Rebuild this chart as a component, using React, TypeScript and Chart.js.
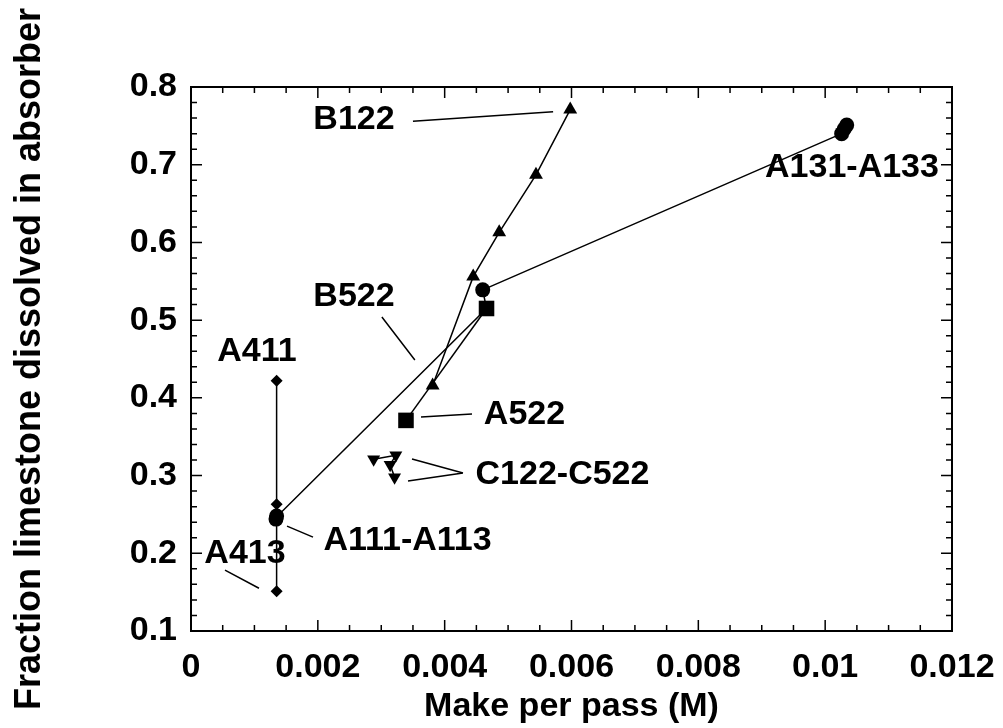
import React, { useEffect, useRef } from 'react';
import { Chart, registerables } from 'chart.js';

Chart.register(...registerables);

const X_MIN = 0;
const X_MAX = 0.012;
const Y_MIN = 0.1;
const Y_MAX = 0.8;
const xTickValues = [0, 0.002, 0.004, 0.006, 0.008, 0.01, 0.012];
const xTickLabels = ['0', '0.002', '0.004', '0.006', '0.008', '0.01', '0.012'];
const yTickValues = [0.1, 0.2, 0.3, 0.4, 0.5, 0.6, 0.7, 0.8];
const yTickLabels = ['0.1', '0.2', '0.3', '0.4', '0.5', '0.6', '0.7', '0.8'];
const X_MINOR_STEP = 0.0005;
const Y_MINOR_STEP = 0.02;

// A4xx series (diamonds)
const a4X = [0.00135, 0.00135, 0.00135];
const a4Y = [0.422, 0.263, 0.151];
// A1xx series (circles)
const a1X = [0.00134, 0.00135, 0.0046, 0.01026, 0.0103, 0.01034];
const a1Y = [0.244, 0.248, 0.539, 0.74, 0.746, 0.751];
// connecting trend line (A111 -> A522-end -> circle -> A131)
const trendX = [0.00134, 0.00466, 0.0046, 0.01026];
const trendY = [0.246, 0.515, 0.539, 0.74];
// A5xx series (squares)
const a5X = [0.00339, 0.00466];
const a5Y = [0.371, 0.515];
// B1xx series (triangles up)
const b1X = [0.00381, 0.00445, 0.00486, 0.00544, 0.00598];
const b1Y = [0.416, 0.556, 0.613, 0.687, 0.771];
// Cxxx series (triangles down)
const cX = [0.00288, 0.00323, 0.00314, 0.00321];
const cY = [0.321, 0.326, 0.314, 0.298];

// annotation labels (data units)
const labelTexts = ['B122', 'B522', 'A411', 'A111-A113', 'A413', 'A522', 'C122-C522', 'A131-A133'];
const labelX = [0.00257, 0.00257, 0.00104, 0.003414, 0.000851, 0.005259, 0.005858, 0.010423];
const labelY = [0.7575, 0.5297, 0.46, 0.2157, 0.199, 0.3779, 0.3006, 0.6958];
// leader lines (data units)
const leaderX1 = [0.0035, 0.00301, 0.001514, 0.000536, 0.003627, 0.003485, 0.003422];
const leaderY1 = [0.756, 0.504, 0.235, 0.1784, 0.3753, 0.3212, 0.2929];
const leaderX2 = [0.00571, 0.00353, 0.001924, 0.001072, 0.004431, 0.004289, 0.004289];
const leaderY2 = [0.768, 0.4487, 0.2208, 0.155, 0.3792, 0.3032, 0.3032];

const FONT = '"Liberation Sans", Arial, Helvetica, sans-serif';

const zip = (xs: number[], ys: number[]) => xs.map((x, i) => ({ x, y: ys[i] }));

const overlayPlugin = {
  id: 'overlay',
  afterDatasetsDraw(chart: any) {
    const { ctx, chartArea: a, scales } = chart;
    const xs = scales.x;
    const ys = scales.y;
    ctx.save();
    ctx.strokeStyle = '#000';
    ctx.fillStyle = '#000';
    // inward ticks on all four sides
    ctx.lineWidth = 1.5;
    ctx.beginPath();
    const nx = Math.round((X_MAX - X_MIN) / X_MINOR_STEP);
    for (let i = 0; i <= nx; i++) {
      const px = xs.getPixelForValue(X_MIN + i * X_MINOR_STEP);
      const len = i % 4 === 0 ? 11 : 6;
      ctx.moveTo(px, a.bottom);
      ctx.lineTo(px, a.bottom - len);
      ctx.moveTo(px, a.top);
      ctx.lineTo(px, a.top + len);
    }
    const ny = Math.round((Y_MAX - Y_MIN) / Y_MINOR_STEP);
    for (let i = 0; i <= ny; i++) {
      const py = ys.getPixelForValue(Y_MIN + i * Y_MINOR_STEP);
      const len = i % 5 === 0 ? 11 : 6;
      ctx.moveTo(a.left, py);
      ctx.lineTo(a.left + len, py);
      ctx.moveTo(a.right, py);
      ctx.lineTo(a.right - len, py);
    }
    ctx.stroke();
    // frame
    ctx.lineWidth = 2;
    ctx.strokeRect(a.left, a.top, a.right - a.left, a.bottom - a.top);
    // leader lines
    ctx.lineWidth = 1.5;
    ctx.beginPath();
    for (let i = 0; i < leaderX1.length; i++) {
      ctx.moveTo(xs.getPixelForValue(leaderX1[i]), ys.getPixelForValue(leaderY1[i]));
      ctx.lineTo(xs.getPixelForValue(leaderX2[i]), ys.getPixelForValue(leaderY2[i]));
    }
    ctx.stroke();
    // labels
    ctx.font = `bold 34px ${FONT}`;
    ctx.textAlign = 'center';
    ctx.textBaseline = 'middle';
    for (let i = 0; i < labelTexts.length; i++) {
      ctx.fillText(labelTexts[i], xs.getPixelForValue(labelX[i]), ys.getPixelForValue(labelY[i]));
    }
    ctx.restore();
  },
};

export default function App() {
  const ref = useRef<HTMLCanvasElement | null>(null);
  useEffect(() => {
    document.body.style.margin = '0';
    const canvas = ref.current;
    if (!canvas) return;
    const black = '#000';
    const chart = new Chart(canvas, {
      type: 'scatter',
      data: {
        datasets: [
          {
            label: 'Trend',
            data: zip(trendX, trendY),
            showLine: true,
            borderColor: black,
            borderWidth: 1.5,
            pointRadius: 0,
          },
          {
            label: 'A4xx',
            data: zip(a4X, a4Y),
            showLine: true,
            borderColor: black,
            backgroundColor: black,
            borderWidth: 1.5,
            pointStyle: 'rectRot',
            pointRadius: 6,
            pointBorderWidth: 0,
          },
          {
            label: 'A1xx',
            data: zip(a1X, a1Y),
            showLine: false,
            borderColor: black,
            backgroundColor: black,
            pointStyle: 'circle',
            pointRadius: 7.5,
            pointBorderWidth: 0,
          },
          {
            label: 'A5xx',
            data: zip(a5X, a5Y),
            showLine: true,
            borderColor: black,
            backgroundColor: black,
            borderWidth: 1.5,
            pointStyle: 'rect',
            pointRadius: 11,
            pointBorderWidth: 0,
          },
          {
            label: 'B1xx',
            data: zip(b1X, b1Y),
            showLine: true,
            borderColor: black,
            backgroundColor: black,
            borderWidth: 1.5,
            pointStyle: 'triangle',
            pointRadius: 8,
            pointBorderWidth: 0,
          },
          {
            label: 'Cxxx',
            data: zip(cX, cY),
            showLine: true,
            borderColor: black,
            backgroundColor: black,
            borderWidth: 1.5,
            pointStyle: 'triangle',
            pointRotation: 180,
            pointRadius: 7.5,
            pointBorderWidth: 0,
          },
        ],
      },
      options: {
        animation: false,
        responsive: false,
        maintainAspectRatio: false,
        layout: { padding: { top: 87, right: 51, left: 0, bottom: 0 } },
        plugins: {
          legend: { display: false },
          tooltip: { enabled: false },
        },
        scales: {
          x: {
            type: 'linear',
            min: X_MIN,
            max: X_MAX,
            afterBuildTicks: (scale: any) => {
              scale.ticks = xTickValues.map((v) => ({ value: v }));
            },
            afterFit: (scale: any) => {
              scale.height = 97;
              scale.paddingLeft = 0;
              scale.paddingRight = 0;
            },
            grid: { display: false, drawTicks: false },
            border: { display: false },
            ticks: {
              padding: 16,
              color: black,
              font: { family: FONT, size: 34, weight: 'bold', lineHeight: 1.2 },
              maxRotation: 0,
              autoSkip: false,
              callback: (_v: any, i: number) => xTickLabels[i],
            },
            title: {
              display: true,
              text: 'Make per pass (M)',
              color: black,
              font: { family: FONT, size: 34, weight: 'bold', lineHeight: 1.2 },
              padding: { top: 0, bottom: 1 },
            },
          },
          y: {
            type: 'linear',
            min: Y_MIN,
            max: Y_MAX,
            afterBuildTicks: (scale: any) => {
              scale.ticks = yTickValues.map((v) => ({ value: v }));
            },
            afterFit: (scale: any) => {
              scale.width = 191;
              scale.paddingTop = 0;
              scale.paddingBottom = 0;
            },
            grid: { display: false, drawTicks: false },
            border: { display: false },
            ticks: {
              padding: 14,
              color: black,
              font: { family: FONT, size: 34, weight: 'bold', lineHeight: 1.2 },
              autoSkip: false,
              callback: (_v: any, i: number) => yTickLabels[i],
            },
            title: {
              display: true,
              text: 'Fraction limestone dissolved in absorber',
              color: black,
              font: { family: FONT, size: 36, weight: 'bold', lineHeight: 1.2 },
              padding: { top: 8, bottom: 0 },
            },
          },
        },
      },
      plugins: [overlayPlugin],
    } as any);
    return () => chart.destroy();
  }, []);
  return (
    <canvas
      ref={ref}
      width={1003}
      height={728}
      style={{ display: 'block', width: '1003px', height: '728px' }}
    />
  );
}
